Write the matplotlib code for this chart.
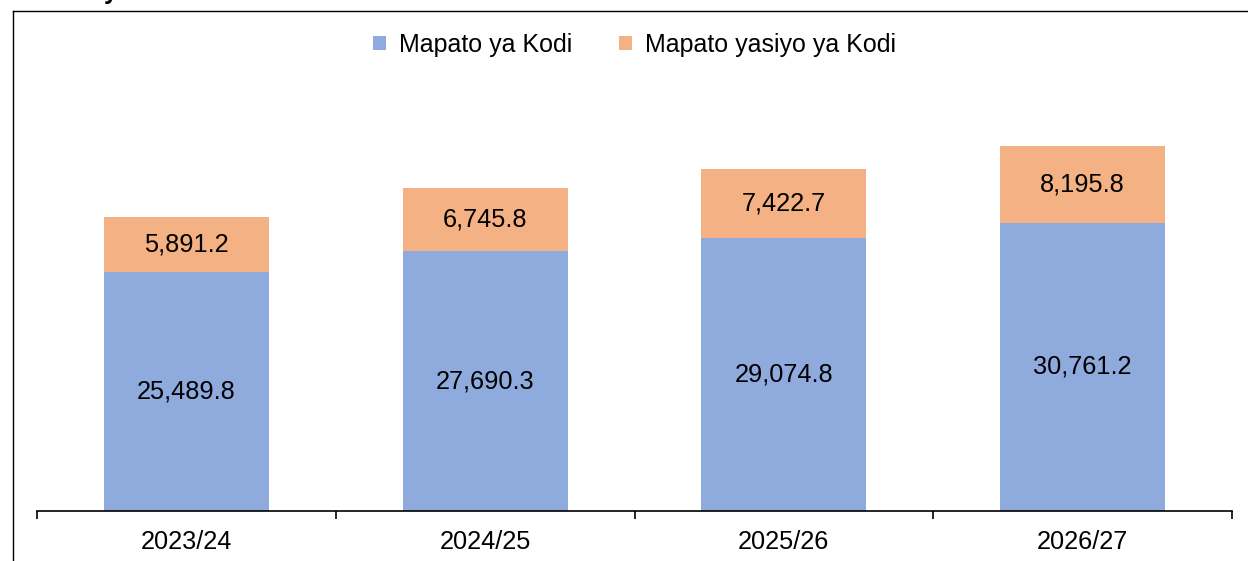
import matplotlib
matplotlib.use('Agg')
import matplotlib.pyplot as plt
import matplotlib.patches as patches
from matplotlib.lines import Line2D

plt.rcParams['font.family'] = ['Liberation Sans', 'DejaVu Sans']

# Data
years = ['2023/24', '2024/25', '2025/26', '2026/27']
kodi = [25489.8, 27690.3, 29074.8, 30761.2]
siyo_kodi = [5891.2, 6745.8, 7422.7, 8195.8]
series_names = ['Mapato ya Kodi', 'Mapato yasiyo ya Kodi']

blue = '#8FAADC'
orange = '#F4B183'

W, H = 1248, 561
fig = plt.figure(figsize=(W / 100, H / 100), dpi=100)

# Outer chart frame (cropped on the right and bottom)
fig.add_artist(Line2D([12.5 / W, 12.5 / W], [0, 1 - 10.5 / H], transform=fig.transFigure,
                      color='black', lw=1.0))
fig.add_artist(Line2D([12.5 / W, 1], [1 - 10.5 / H, 1 - 10.5 / H], transform=fig.transFigure,
                      color='black', lw=1.0))
# Cut-off title glyph at the very top
fig.text(104 / W, 1 + 1.5 / H, 'y', fontsize=18, fontweight='bold', va='baseline', ha='left')

# Plot area
ymax = 50000
px_per_unit = 239 / 25489.8
ax = fig.add_axes([37 / W, 50 / H, 1195 / W, ymax * px_per_unit / H])
ax.set_xlim(-0.5, len(years) - 0.5)
ax.set_ylim(0, ymax)

x = range(len(years))
width = 0.552
b1 = ax.bar(x, kodi, width, color=blue, label=series_names[0])
b2 = ax.bar(x, siyo_kodi, width, bottom=kodi, color=orange, label=series_names[1])

for i in x:
    ax.text(i, kodi[i] / 2, f'{kodi[i]:,.1f}', ha='center', va='center', fontsize=18.3)
    ax.text(i, kodi[i] + siyo_kodi[i] / 2, f'{siyo_kodi[i]:,.1f}', ha='center', va='center',
            fontsize=18.3)

# Spines and ticks
for s in ['top', 'right', 'left']:
    ax.spines[s].set_visible(False)
ax.spines['bottom'].set_linewidth(1.2)
ax.set_yticks([])
ax.set_xticks([i - 0.5 for i in range(len(years) + 1)])
ax.set_xticklabels([])
ax.tick_params(axis='x', which='major', direction='out', length=6, width=1.2)
ax.set_xticks(list(x), minor=True)
ax.set_xticklabels(years, minor=True, fontsize=18.3)
ax.tick_params(axis='x', which='minor', length=0, pad=14)

# Legend
handles = [patches.Patch(facecolor=blue), patches.Patch(facecolor=orange)]
fig.legend(handles, series_names, loc='center', bbox_to_anchor=(634.5 / W, 1 - 45 / H),
           ncol=2, frameon=False, fontsize=18, handlelength=0.52, handleheight=0.52,
           handletextpad=0.52, columnspacing=1.9)

fig.savefig('out.png', dpi=100)
